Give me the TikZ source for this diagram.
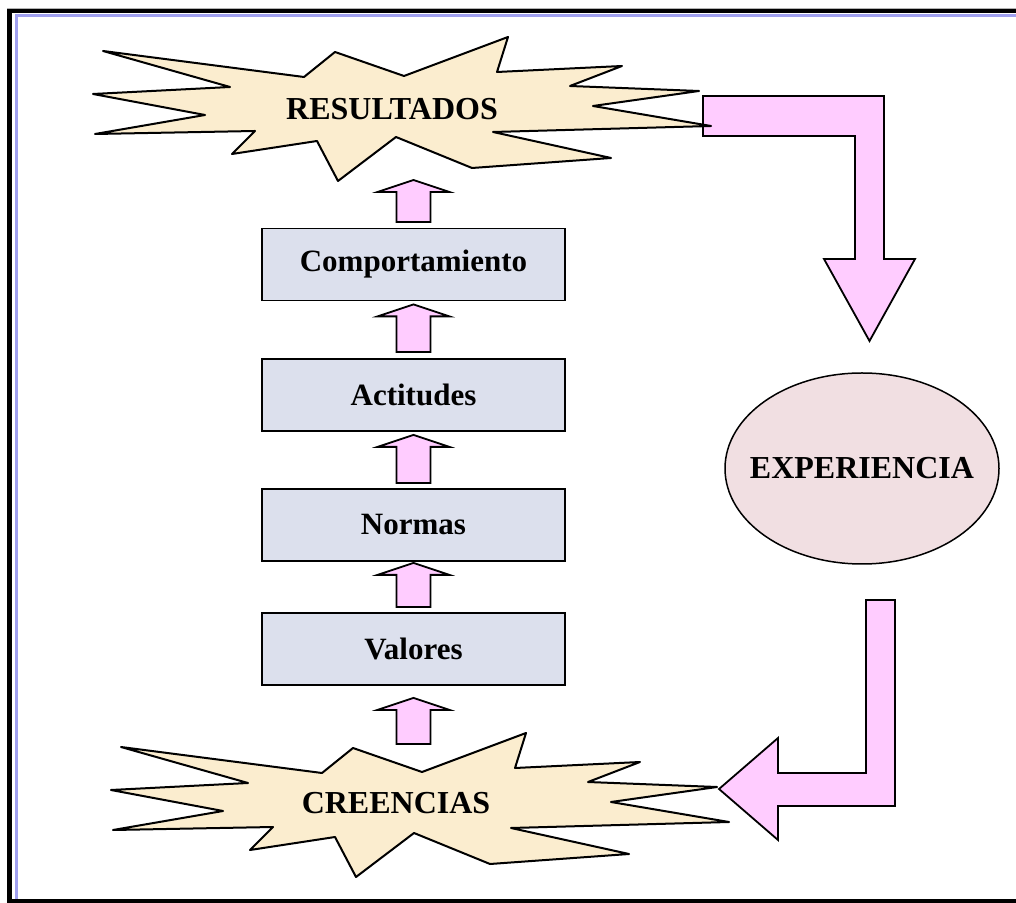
\documentclass[tikz,border=0pt]{standalone}
\usepackage{fontspec}
\setmainfont{Liberation Serif}
\usetikzlibrary{calc,shapes.geometric}

\definecolor{burstfill}{RGB}{251,237,207}
\definecolor{boxfill}{RGB}{220,224,237}
\definecolor{ovalfill}{RGB}{241,223,226}
\definecolor{arrowpink}{RGB}{255,204,255}
\definecolor{frameblue}{RGB}{160,160,240}

\tikzset{
  labeltext/.style={font={\fontsize{32}{38}\selectfont\bfseries}},
  stagetext/.style={font={\fontsize{31}{37}\selectfont\bfseries}},
  burstline/.style={draw=black, line width=2pt, fill=burstfill, line join=round},
  burst/.pic={
    \path[burstline] (-275,56) -- (-74,30) -- (-43,55) -- (26,31) -- (130,70)
      -- (119,35) -- (244,41) -- (192,21) -- (321,16) -- (215,1) -- (333,-19)
      -- (115,-25) -- (233,-51) -- (94,-61) -- (18,-30) -- (-40,-74) -- (-61,-34)
      -- (-146,-47) -- (-123,-24) -- (-283,-27) -- (-173,-8) -- (-285,13)
      -- (-148,20) -- cycle;
  },
  stage/.style={stagetext, draw=black, line width=1.8pt, fill=boxfill,
    minimum width=303pt, minimum height=72pt, inner sep=0pt},
  oval/.style={ellipse, draw=black, line width=1.5pt, fill=ovalfill,
    minimum width=274pt, minimum height=191pt, inner sep=0pt},
  pinkarrow/.style={draw=black, line width=1.8pt, fill=arrowpink, line join=miter},
}

% upward block arrow: stem starts at #1, head tip at the height of #2
\newcommand\upblock[2]{%
  \path[pinkarrow] let \p1=#1, \p2=#2 in
    (\x1-17pt,\y1) -- (\x1+17pt,\y1) -- (\x1+17pt,\y2-12pt) -- (\x1+36pt,\y2-12pt)
    -- (\x1,\y2) -- (\x1-36pt,\y2-12pt) -- (\x1-17pt,\y2-12pt) -- cycle;}

\begin{document}
\begin{tikzpicture}[x=1pt,y=1pt]
  \useasboundingbox (0,0) rectangle (1016,902);
  \clip (0,0) rectangle (1016,902);

  % page frame: open on the right
  \draw[gray!60, line width=1pt] (7,893.5) -- (1016,893.5);
  \draw[black, line width=4.5pt, line join=miter] (1016,890.8) -- (9.5,890.8) -- (9.5,1) -- (1016,1);
  \draw[frameblue, line width=3pt] (16.5,3) -- (16.5,886.3) -- (1016,886.3);

  % bent arrows of the outer loop
  \path[pinkarrow] (703,806) -- (884,806) -- (884,643) -- (915,643) -- (869.5,561)
    -- (824,643) -- (855,643) -- (855,766) -- (703,766) -- cycle;
  \path[pinkarrow] (866,302) -- (895,302) -- (895,96) -- (778,96) -- (778,62)
    -- (719,113) -- (778,164) -- (778,129) -- (866,129) -- cycle;

  % bursts
  \pic at (378,795) {burst};
  \pic at (396,99) {burst};
  \node[labeltext] (res) at (392,793) {RESULTADOS};
  \node[labeltext] (cre) at (396,99) {CREENCIAS};

  % chain of stages
  \node[stage] (comp) at (413.5,637.5) {Comportamiento};
  \node[stage] (act)  at (413.5,507)   {Actitudes};
  \node[stage] (norm) at (413.5,377)   {Normas};
  \node[stage] (val)  at (413.5,253)   {Valores};

  \coordinate (res-foot) at (413.5,722);
  \coordinate (cre-top) at (413.5,158);

  \upblock{($(comp.north)+(0,5.5)$)}{(res-foot)}
  \upblock{($(act.north)+(0,6)$)}{($(comp.south)+(0,-3)$)}
  \upblock{($(norm.north)+(0,5)$)}{($(act.south)+(0,-3)$)}
  \upblock{($(val.north)+(0,5)$)}{($(norm.south)+(0,-1)$)}
  \upblock{(cre-top)}{($(val.south)+(0,-12)$)}

  % experience
  \node[oval] (exp) at (862,433.5) {};
  \node[labeltext] (exp-text) at (exp.center) {EXPERIENCIA};
\end{tikzpicture}
\end{document}
